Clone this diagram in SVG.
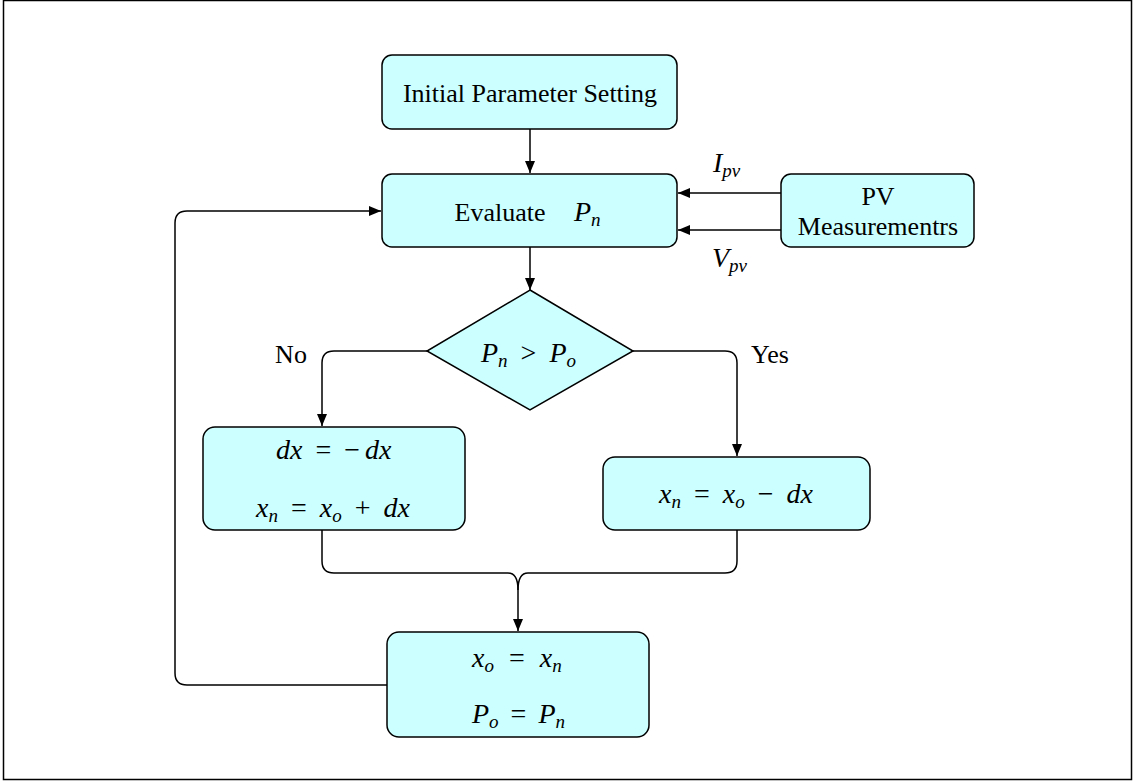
<svg xmlns="http://www.w3.org/2000/svg" width="1134" height="782" viewBox="0 0 1134 782">
<defs>
<marker id="ah" viewBox="0 0 12 12" refX="12" refY="6" markerWidth="12" markerHeight="12" markerUnits="userSpaceOnUse" orient="auto">
<path d="M0,1 L12,6 L0,11 Z" fill="#000"/>
</marker>
<style>
.box{fill:#ccffff;stroke:#000;stroke-width:1.5}
.c{fill:none;stroke:#000;stroke-width:1.5}
.i{font-style:italic}
.s{font-style:italic;font-size:19px}
.m{font-size:28px}
</style>
</defs>
<rect x="3.5" y="0.5" width="1128" height="779" fill="#fff" stroke="#000" stroke-width="1.5"/>
<g id="connectors">
<path class="c" d="M530,129 V173" marker-end="url(#ah)"/>
<path class="c" d="M781,193 H678" marker-end="url(#ah)"/>
<path class="c" d="M781,230 H678" marker-end="url(#ah)"/>
<path class="c" d="M530,247 V290" marker-end="url(#ah)"/>
<path class="c" d="M427,351 H334 Q322,351 322,363 V426" marker-end="url(#ah)"/>
<path class="c" d="M633,351 H725 Q737,351 737,363 V456" marker-end="url(#ah)"/>
<path class="c" d="M322,530 V561 Q322,573 334,573 H508 Q518,573 518,590"/>
<path class="c" d="M737,530 V561 Q737,573 725,573 H528 Q518,573 518,590"/>
<path class="c" d="M518,590 V631" marker-end="url(#ah)"/>
<path class="c" d="M387,685 H187 Q175,685 175,673 V223 Q175,211 187,211 H381" marker-end="url(#ah)"/>
</g>
<g font-family="Liberation Serif, Times New Roman, serif" font-size="26" fill="#000" text-anchor="middle">
<g id="n-init">
<rect class="box" x="382" y="55" width="295" height="74" rx="10"/>
<text x="530" y="102">Initial Parameter Setting</text>
</g>
<g id="n-eval">
<rect class="box" x="382" y="174" width="295" height="73" rx="10"/>
<text x="500" y="221">Evaluate</text>
<text class="m" x="574" y="221" text-anchor="start"><tspan class="i">P</tspan><tspan class="s" dy="5">n</tspan></text>
</g>
<g id="n-pv">
<rect class="box" x="781" y="174" width="193" height="73" rx="10"/>
<text x="878" y="205">PV</text>
<text x="878" y="235">Measurementrs</text>
</g>
<g id="l-ipv">
<text class="m" x="713" y="172" text-anchor="start"><tspan class="i">I</tspan><tspan class="s" dy="5">pv</tspan></text>
</g>
<g id="l-vpv">
<text class="m" x="712" y="267" text-anchor="start"><tspan class="i">V</tspan><tspan class="s" dy="5">pv</tspan></text>
</g>
<g id="n-dec">
<polygon class="box" points="530,290 633,351 530,410 427,351"/>
<text class="m" x="481" y="362" text-anchor="start"><tspan class="i">P</tspan><tspan class="s" dy="5">n</tspan><tspan dy="-5" dx="13">&gt;</tspan><tspan class="i" dx="13">P</tspan><tspan class="s" dy="5">o</tspan></text>
</g>
<g id="l-no"><text x="291" y="363">No</text></g>
<g id="l-yes"><text x="770" y="363">Yes</text></g>
<g id="n-left">
<rect class="box" x="203" y="427" width="262" height="103" rx="12"/>
<text class="m" x="276" y="459" text-anchor="start"><tspan class="i">dx</tspan><tspan dx="13">=</tspan><tspan dx="13">−</tspan><tspan class="i" dx="5">dx</tspan></text>
<text class="m" x="256" y="517" text-anchor="start"><tspan class="i">x</tspan><tspan class="s" dy="5">n</tspan><tspan dy="-5" dx="13">=</tspan><tspan class="i" dx="13">x</tspan><tspan class="s" dy="5">o</tspan><tspan dy="-5" dx="13">+</tspan><tspan class="i" dx="13">dx</tspan></text>
</g>
<g id="n-right">
<rect class="box" x="603" y="457" width="267" height="73" rx="12"/>
<text class="m" x="659" y="503" text-anchor="start"><tspan class="i">x</tspan><tspan class="s" dy="5">n</tspan><tspan dy="-5" dx="13">=</tspan><tspan class="i" dx="13">x</tspan><tspan class="s" dy="5">o</tspan><tspan dy="-5" dx="13">−</tspan><tspan class="i" dx="13">dx</tspan></text>
</g>
<g id="n-bottom">
<rect class="box" x="387" y="632" width="262" height="105" rx="12"/>
<text class="m" x="472" y="667" text-anchor="start"><tspan class="i">x</tspan><tspan class="s" dy="5">o</tspan><tspan dy="-5" dx="15">=</tspan><tspan class="i" dx="15">x</tspan><tspan class="s" dy="5">n</tspan></text>
<text class="m" x="472" y="723" text-anchor="start"><tspan class="i">P</tspan><tspan class="s" dy="5">o</tspan><tspan dy="-5" dx="12">=</tspan><tspan class="i" dx="12">P</tspan><tspan class="s" dy="5">n</tspan></text>
</g>
</g>
</svg>
